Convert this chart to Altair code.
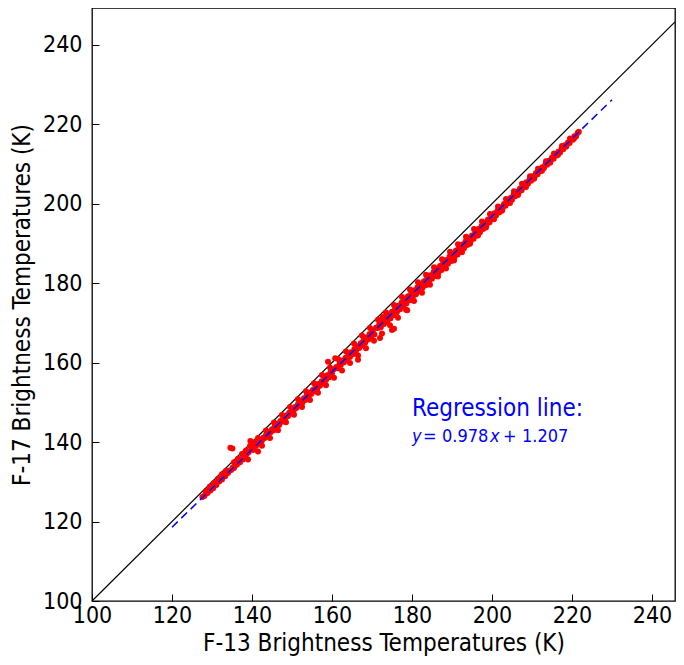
import altair as alt
import pandas as pd

# ---- data ----
f13 = [127.6, 128.1, 128.4, 128.9, 129.2, 129.6, 130.0, 130.3, 130.7, 131.1,
       131.4, 131.8, 132.2, 132.5, 132.9, 133.3, 133.6, 134.0, 134.3, 134.6,
       135.1, 134.8, 135.2, 135.5, 135.9, 136.2, 136.6, 137.0, 137.3, 137.7,
       138.0, 138.3, 138.7, 139.0, 139.2, 139.6, 140.0, 140.3, 140.6, 141.0,
       141.3, 141.5, 141.8, 142.1, 142.5, 142.8, 143.2, 143.5, 143.9, 144.2,
       144.6, 145.0, 145.3, 145.7, 146.0, 146.4, 146.8, 147.1, 147.5, 147.9,
       148.2, 148.6, 149.0, 149.3, 149.7, 150.0, 150.4, 150.8, 151.1, 151.5,
       151.9, 152.2, 152.6, 153.0, 153.3, 153.7, 154.1, 154.4, 154.8, 155.2,
       155.5, 155.9, 156.3, 156.6, 157.0, 157.4, 157.7, 158.1, 158.5, 158.8,
       159.0, 159.3, 159.6, 160.0, 160.4, 160.8, 161.1, 161.5, 161.9, 162.2,
       162.6, 163.0, 163.4, 163.7, 164.1, 164.5, 164.8, 165.2, 165.6, 166.0,
       166.5, 166.4, 166.8, 167.2, 167.6, 167.9, 168.3, 168.7, 169.1, 169.4,
       169.8, 170.2, 170.6, 171.0, 171.5, 171.8, 172.0, 172.2, 172.7, 172.6,
       173.0, 173.4, 173.8, 174.2, 174.6, 175.0, 175.0, 175.5, 175.4, 175.8,
       176.2, 176.6, 177.0, 177.4, 177.8, 178.2, 178.6, 178.8, 179.0, 179.4,
       179.8, 180.2, 180.6, 181.0, 181.4, 181.8, 182.2, 182.6, 183.0, 183.4,
       183.8, 184.2, 184.6, 185.0, 185.4, 185.8, 186.2, 186.6, 187.0, 187.4,
       187.8, 188.2, 188.6, 189.0, 189.4, 189.8, 190.2, 190.6, 191.0, 191.4,
       191.8, 192.2, 192.6, 193.0, 193.4, 193.8, 194.2, 194.6, 195.0, 195.4,
       195.8, 196.2, 196.6, 197.0, 197.4, 197.8, 198.2, 198.6, 199.0, 199.4,
       199.8, 200.2, 200.6, 201.0, 201.4, 201.8, 202.2, 202.6, 203.0, 203.4,
       203.8, 204.2, 204.6, 205.0, 205.4, 205.8, 206.2, 206.6, 207.0, 207.4,
       207.8, 208.2, 208.6, 209.0, 209.4, 209.8, 210.2, 210.6, 211.0, 211.4,
       211.8, 212.2, 212.6, 213.0, 213.4, 213.8, 214.2, 214.6, 215.0, 215.4,
       215.8, 216.2, 216.6, 217.0, 217.4, 217.8, 218.2, 218.6, 219.0, 219.4,
       219.8, 220.2, 220.6, 221.0, 221.4, 221.7,
       # second group, the spread either side of the band
       128.5, 129.5, 130.5, 131.5, 132.5, 133.5, 135.5, 136.5, 137.5, 138.5,
       139.5, 140.5, 141.5, 142.5, 143.5, 144.5, 145.5, 146.5, 147.5, 148.5,
       149.5, 150.5, 151.5, 152.5, 153.5, 154.5, 155.5, 156.5, 157.5, 158.5,
       159.5, 160.5, 161.5, 162.5, 163.5, 164.5, 165.5, 166.5, 167.5, 168.5,
       169.5, 170.5, 171.5, 172.5, 173.5, 174.5, 175.5, 176.5, 177.5, 178.5,
       179.5, 180.5, 181.5, 182.5, 183.5, 184.5, 185.5, 186.5, 187.5, 188.5,
       189.5, 190.5, 191.5, 192.5, 193.5, 194.5, 195.5, 196.5, 197.5, 198.5,
       199.5, 200.5, 201.5, 202.5, 203.5, 204.5, 205.5, 206.5, 207.5, 208.5,
       209.5, 210.5, 211.5, 212.5, 213.5, 214.5, 215.5, 216.5, 217.5, 218.5,
       219.5, 220.5]
f17 = [126.2, 126.4, 127.0, 127.2, 127.9, 127.8, 128.6, 128.4, 129.3, 129.2,
       130.0, 130.1, 130.7, 130.6, 131.5, 131.4, 132.1, 132.2, 132.8, 138.6,
       138.4, 133.0, 133.6, 133.5, 134.2, 134.3, 134.9, 134.9, 135.7, 135.6,
       136.4, 136.2, 137.0, 135.6, 137.5, 140.3, 138.3, 138.0, 139.0, 139.0,
       139.7, 137.6, 139.8, 140.5, 140.4, 141.1, 141.0, 141.8, 141.7, 142.5,
       142.4, 143.2, 142.9, 143.9, 143.7, 144.6, 144.3, 145.3, 145.1, 146.0,
       145.7, 146.7, 146.5, 147.4, 147.2, 148.1, 147.8, 148.8, 148.6, 149.5,
       149.3, 150.2, 149.9, 151.0, 150.6, 151.7, 151.4, 152.4, 152.1, 153.1,
       152.7, 153.9, 153.5, 154.6, 154.2, 155.3, 155.0, 156.1, 155.6, 156.8,
       160.2, 156.3, 157.5, 157.3, 158.3, 161.1, 158.9, 158.6, 159.8, 159.4,
       160.5, 160.1, 161.2, 160.8, 162.0, 161.4, 162.6, 162.1, 163.4, 162.9,
       160.7, 164.1, 163.7, 164.9, 164.3, 165.6, 165.0, 166.4, 165.8, 167.2,
       166.5, 168.0, 167.1, 168.8, 168.7, 169.6, 166.2, 168.9, 171.5, 170.4,
       169.7, 171.2, 170.4, 172.0, 171.1, 168.2, 172.8, 168.5, 171.9, 173.6,
       172.7, 174.3, 173.4, 175.1, 174.2, 175.9, 174.9, 173.2, 176.7, 175.7,
       177.4, 176.5, 178.2, 177.2, 179.0, 178.0, 179.7, 178.8, 180.5, 179.5,
       181.2, 180.3, 182.0, 181.1, 182.8, 181.8, 183.6, 182.6, 184.3, 183.3,
       185.1, 184.1, 185.8, 184.9, 186.7, 185.6, 187.4, 186.5, 188.2, 187.2,
       189.0, 188.1, 189.7, 188.8, 190.5, 189.6, 191.3, 190.4, 192.0, 191.2,
       192.8, 192.0, 193.6, 192.8, 194.4, 193.6, 195.2, 194.5, 196.0, 195.3,
       196.8, 196.2, 197.6, 197.0, 198.3, 197.8, 199.1, 198.6, 199.9, 199.5,
       200.6, 200.2, 201.4, 201.0, 202.3, 201.9, 203.0, 202.6, 203.8, 203.4,
       204.6, 204.2, 205.4, 205.0, 206.1, 205.8, 206.9, 206.5, 207.7, 207.4,
       208.4, 208.2, 209.2, 209.0, 210.0, 209.8, 210.8, 210.5, 211.6, 211.3,
       212.4, 212.1, 213.1, 212.9, 213.9, 213.7, 214.7, 214.5, 215.4, 215.3,
       216.2, 216.1, 217.0, 216.9, 217.8, 218.1,
       127.6, 128.8, 129.7, 130.8, 131.9, 132.8, 134.9, 135.8, 137.0, 137.9,
       139.0, 139.9, 141.0, 139.1, 142.9, 141.0, 144.9, 143.0, 146.8, 145.0,
       148.8, 146.9, 150.8, 148.8, 152.8, 150.6, 154.8, 152.4, 156.9, 154.3,
       158.8, 156.2, 160.9, 158.0, 162.8, 159.9, 164.8, 161.8, 166.8, 163.6,
       168.7, 165.5, 170.8, 167.3, 172.6, 169.4, 174.5, 171.3, 176.5, 173.3,
       178.4, 175.5, 180.2, 177.6, 182.1, 179.6, 184.0, 181.7, 186.0, 183.7,
       187.9, 185.7, 189.8, 187.8, 191.7, 189.9, 193.6, 192.0, 195.5, 194.0,
       197.4, 196.1, 199.3, 198.2, 201.2, 200.2, 203.1, 202.2, 205.0, 204.2,
       206.9, 206.3, 208.8, 208.3, 210.7, 210.3, 212.6, 212.3, 214.5, 214.3,
       216.4, 216.4]

reg_x = [120, 230]
reg_y = [118.57, 226.15]
one_x = [100, 245.75]
one_y = [100, 245.75]
tick_values = [100, 120, 140, 160, 180, 200, 220, 240]
note_title = "Regression line:"
eq_parts = ["y", "=", "0.978", "x", "+", "1.207"]
eq_italic = [True, False, False, True, False, False]
eq_dx = [0, 11, 30, 78, 91, 110]
note_x = 180
note_y1 = 146.6
note_y2 = 140.0

X_DOMAIN = [100, 245.75]
Y_DOMAIN = [100, 249.25]
FONT = "DejaVu Sans Condensed"
FS = 23

pts = pd.DataFrame({"x": f13, "y": f17})
reg = pd.DataFrame({"x": reg_x, "y": reg_y})
one = pd.DataFrame({"x": one_x, "y": one_y})

xs = alt.Scale(domain=X_DOMAIN, nice=False, zero=False)
ys = alt.Scale(domain=Y_DOMAIN, nice=False, zero=False)

common = dict(values=tick_values, grid=False, domain=False,
              labelFont=FONT, labelFontSize=FS, labelColor="black",
              titleFont=FONT, titleFontSize=24, titleColor="black",
              titleFontWeight="normal", labelFlush=False, labelOverlap=False)

x_main = alt.Axis(title="F-13 Brightness Temperatures (K)", ticks=False,
                  labelPadding=3, titlePadding=4, **common)
y_main = alt.Axis(title="F-17 Brightness Temperatures (K)", ticks=False,
                  labelPadding=10, titlePadding=8, **common)

x_in = alt.Axis(orient="top", offset=-593, values=tick_values, labels=False,
                domain=False, grid=False, tickSize=7, tickColor="black",
                tickWidth=1, title=None)
y_in = alt.Axis(orient="right", offset=-583, values=tick_values, labels=False,
                domain=False, grid=False, tickSize=7, tickColor="black",
                tickWidth=1, title=None)

identity = alt.Chart(one).mark_line(color="black", strokeWidth=1.2).encode(
    x=alt.X("x:Q", scale=xs, axis=x_in),
    y=alt.Y("y:Q", scale=ys, axis=y_in),
)

points = alt.Chart(pts).mark_circle(color="red", size=36, opacity=1).encode(
    x=alt.X("x:Q", scale=xs, axis=x_main),
    y=alt.Y("y:Q", scale=ys, axis=y_main),
)

regline = alt.Chart(reg).mark_line(color="blue", strokeWidth=1.5,
                                   strokeDash=[8, 5]).encode(
    x=alt.X("x:Q", scale=xs, axis=None),
    y=alt.Y("y:Q", scale=ys, axis=None),
)


def note(text, yv, size, dx=0, italic=False):
    df = pd.DataFrame({"x": [note_x], "y": [yv], "t": [text]})
    kw = dict(color="blue", font=FONT, fontSize=size, align="left",
              baseline="alphabetic", dx=dx)
    if italic:
        kw["fontStyle"] = "italic"
    return alt.Chart(df).mark_text(**kw).encode(
        x=alt.X("x:Q", scale=xs, axis=None),
        y=alt.Y("y:Q", scale=ys, axis=None),
        text="t:N",
    )


texts = [note(note_title, note_y1, 24)]
for part, it, dx in zip(eq_parts, eq_italic, eq_dx):
    texts.append(note(part, note_y2, 18, dx=dx, italic=it))

chart = alt.layer(identity, points, regline, *texts).resolve_axis(
    x="independent", y="independent"
).properties(
    width=583, height=593,
    autosize=alt.AutoSizeParams(type="none"),
    padding={"left": 84, "top": 0, "right": 1, "bottom": 56},
).configure_view(stroke="black", strokeWidth=1.3)

chart.save("out.html", embed_options={"renderer": "svg", "actions": False})
